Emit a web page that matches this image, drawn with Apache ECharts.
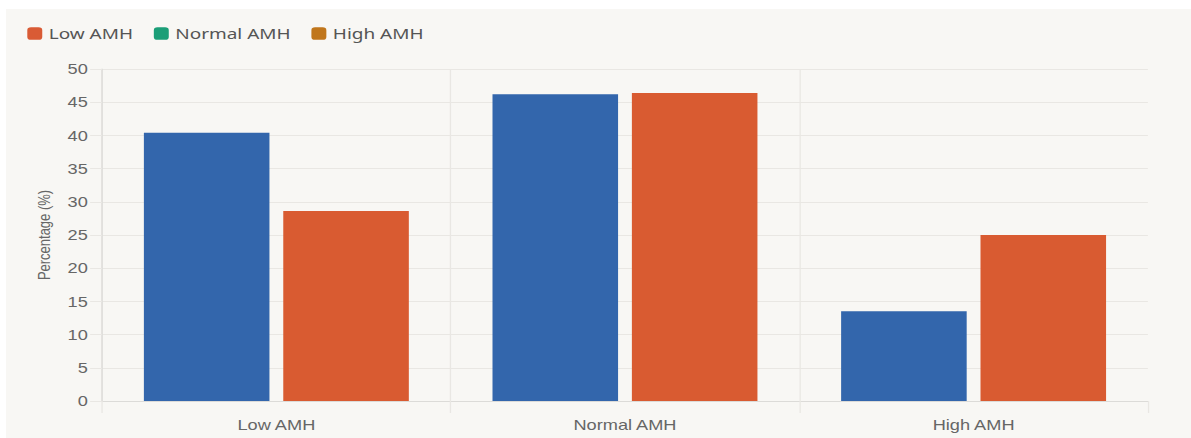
<!DOCTYPE html>
<html>
<head>
<meta charset="utf-8">
<title>AMH distribution</title>
<script src="https://cdn.jsdelivr.net/npm/echarts@6/dist/echarts.min.js"></script>
<style>
  html, body { margin: 0; padding: 0; background: #ffffff; width: 1191px; height: 438px; overflow: hidden; }
  #panel { position: absolute; left: 6px; top: 9px; right: 0; bottom: 0; background: #f8f7f4; }
  /* chart is laid out on a narrower canvas and widened to the page width */
  #chart { position: absolute; left: 0; top: 0; width: 916px; height: 438px; transform: scaleX(1.3); transform-origin: 0 0; }
</style>
</head>
<body>
<div id="panel"></div>
<div id="chart"></div>
<script>
// AMH categories on the x axis
const categories = ['Low AMH', 'Normal AMH', 'High AMH'];
// percentage of each group in every AMH category
const groupOneValues = [40.4, 46.2, 13.5];
const groupTwoValues = [28.6, 46.4, 25.0];
// legend entries and their swatch colours
const legendNames = ['Low AMH', 'Normal AMH', 'High AMH'];
const legendColors = ['#d95b35', '#1b9e77', '#c0761b'];
// y axis scale
const yMin = 0, yMax = 50, yStep = 5;

const gridColor = '#e9e7e3';
const axisColor = '#dcdbd8';
const textColor = '#666666';

const chart = echarts.init(document.getElementById('chart'), null, { renderer: 'svg' });

// legend-only entries (no data) carrying the swatch colours
const legendSeries = legendNames.map((name, i) => ({
  name: name,
  type: 'line',
  data: [],
  color: legendColors[i],
  silent: true
}));

chart.setOption({
  animation: false,
  backgroundColor: 'transparent',
  legend: {
    data: legendNames,
    left: 21,
    top: 26,
    padding: 0,
    icon: 'roundRect',
    itemWidth: 11.5,
    itemHeight: 12.5,
    itemGap: 16,
    textStyle: { fontFamily: 'Noto Sans', fontSize: 14.6, color: '#555555' }
  },
  grid: { left: 78.5, right: 33, top: 69, bottom: 37, containLabel: false },
  xAxis: {
    type: 'category',
    data: categories,
    boundaryGap: true,
    axisLine: { show: true, lineStyle: { color: axisColor, width: 1 } },
    axisTick: {
      show: true,
      length: 12,
      lineStyle: { color: gridColor },
      interval: (index) => index < categories.length
    },
    splitLine: { show: true, showMaxLine: false, lineStyle: { color: gridColor, width: 1 } },
    axisLabel: { margin: 17, fontFamily: 'Liberation Sans', fontSize: 14, color: textColor }
  },
  yAxis: {
    type: 'value',
    min: yMin,
    max: yMax,
    interval: yStep,
    name: 'Percentage (%)',
    nameLocation: 'middle',
    nameGap: 38,
    nameTextStyle: { fontFamily: 'Liberation Sans', fontSize: 13, color: textColor },
    axisLine: { show: true, lineStyle: { color: axisColor, width: 1 } },
    axisTick: { show: true, length: 9.2, lineStyle: { color: gridColor } },
    splitLine: { show: true, lineStyle: { color: gridColor, width: 1 } },
    axisLabel: { margin: 11, fontFamily: 'Liberation Sans', fontSize: 14, color: textColor }
  },
  series: [
    {
      name: 'Group 1',
      type: 'bar',
      data: groupOneValues,
      barCategoryGap: '24%',
      barGap: '11%',
      itemStyle: { color: '#3366ac' }
    },
    {
      name: 'Group 2',
      type: 'bar',
      data: groupTwoValues,
      barCategoryGap: '24%',
      barGap: '11%',
      itemStyle: { color: '#d95b31' }
    }
  ].concat(legendSeries)
});
</script>
</body>
</html>
